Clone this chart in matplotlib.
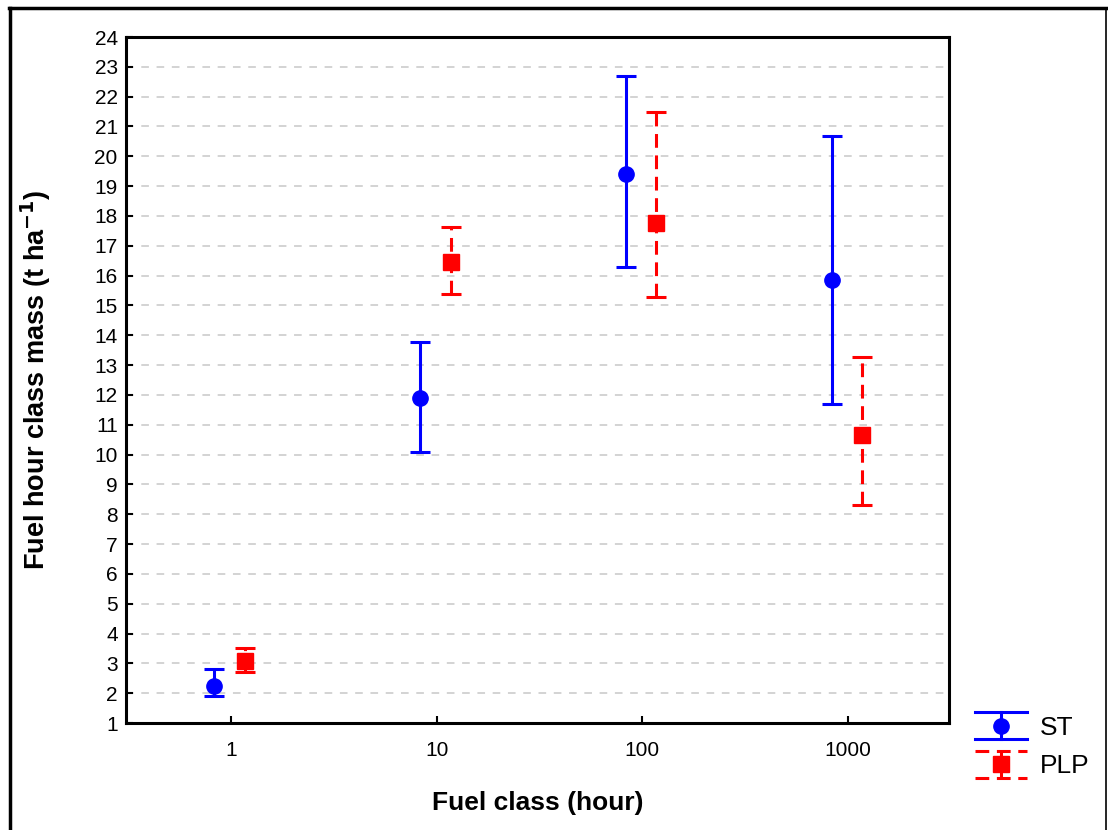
import numpy as np
import matplotlib
matplotlib.use('Agg')
import matplotlib.pyplot as plt
from matplotlib.lines import Line2D
from matplotlib.legend_handler import HandlerBase

plt.rcParams['font.family'] = ['Liberation Sans', 'DejaVu Sans']

# fuel classes (hours) and group values
fuel_class = [1, 10, 100, 1000]
class_labels = ['1', '10', '100', '1000']

st_mean = [2.25, 11.9, 19.4, 15.85]
st_low = [1.9, 10.1, 16.3, 11.7]
st_high = [2.82, 13.78, 22.7, 20.68]

plp_mean = [3.08, 16.45, 17.78, 10.65]
plp_low = [2.71, 15.4, 15.28, 8.3]
plp_high = [3.5, 17.62, 21.5, 13.28]

DASH = (0, (4.5, 2.5))


class ErrHandler(HandlerBase):
    # legend key like the original: wide caps, short stem and the marker
    def __init__(self, color, marker, dashed):
        HandlerBase.__init__(self)
        self.color = color
        self.marker = marker
        self.dashed = dashed

    def create_artists(self, legend, orig_handle, xdescent, ydescent,
                       width, height, fontsize, trans):
        x0 = -xdescent
        x1 = x0 + width
        xm = (x0 + x1) / 2
        ym = -ydescent + height / 2
        y0 = ym - 9.7
        y1 = ym + 9.7
        ls = DASH if self.dashed else '-'
        top = Line2D([x0, x1], [y1, y1], color=self.color, lw=2.2, ls=ls)
        bot = Line2D([x0, x1], [y0, y0], color=self.color, lw=2.2, ls=ls)
        stem = Line2D([xm, xm], [y0, y1], color=self.color, lw=2.2, ls=ls)
        mk = Line2D([xm], [ym], color=self.color, marker=self.marker, ms=11, ls='none')
        arts = [top, bot, stem, mk]
        for a in arts:
            a.set_transform(trans)
        return arts


fig = plt.figure(figsize=(11.08, 8.30), dpi=100)
ax = fig.add_axes([0.1137, 0.1289, 0.7428, 0.8265])

# small horizontal shift so the two groups don't overlap (log axis)
x = np.array(fuel_class, dtype=float)
x_st = x * 0.83
x_plp = x * 1.17

st_m = np.array(st_mean)
plp_m = np.array(plp_mean)
st_err = [st_m - np.array(st_low), np.array(st_high) - st_m]
plp_err = [plp_m - np.array(plp_low), np.array(plp_high) - plp_m]

e1 = ax.errorbar(x_st, st_m, yerr=st_err, fmt='o', color='#0000ff', ms=11,
                 elinewidth=2.2, capsize=7.5, capthick=2.2, label='ST', zorder=3)
e2 = ax.errorbar(x_plp, plp_m, yerr=plp_err, fmt='s', color='#ff0000', ms=11,
                 elinewidth=2.2, capsize=7.5, capthick=2.2, label='PLP', zorder=3)
e2[2][0].set_linestyle(DASH)

ax.set_xscale('log')
ax.set_xlim(10 ** -0.51, 10 ** 3.49)
ax.set_ylim(1, 24)
ax.set_xticks(fuel_class)
ax.set_xticklabels(class_labels)
ax.xaxis.set_minor_locator(matplotlib.ticker.NullLocator())
ax.set_yticks(range(1, 25))

ax.yaxis.grid(True, linestyle=(0, (5, 5)), color='#c8c8c8', linewidth=1.1)
ax.set_axisbelow(True)

ax.tick_params(direction='in', length=5, width=1.5, labelsize=15, colors='black')
ax.tick_params(axis='x', pad=13)
ax.tick_params(axis='y', pad=6)
for s in ax.spines.values():
    s.set_linewidth(2.2)

ax.set_xlabel('Fuel class (hour)', fontsize=19, fontweight='bold', labelpad=22)
ax.set_ylabel('Fuel hour class mass (t ha$^{\\mathbf{-1}}$)', fontsize=19.5,
              fontweight='bold', labelpad=30)

leg = fig.legend(handles=[e1, e2], loc='center left', bbox_to_anchor=(0.87, 0.1),
                 borderaxespad=0, frameon=False, fontsize=19, handlelength=1.97,
                 handletextpad=0.49, handleheight=0.75, labelspacing=0.55,
                 handler_map={e1: ErrHandler('#0000ff', 'o', False),
                              e2: ErrHandler('#ff0000', 's', True)})

# outer border of the figure (bottom edge is cut off in the original)
fig.add_artist(Line2D([0.009, 0.009], [0, 0.99], transform=fig.transFigure,
                      color='black', lw=2.5))
fig.add_artist(Line2D([0.008, 0.998], [0.99, 0.99], transform=fig.transFigure,
                      color='black', lw=2.5))
fig.add_artist(Line2D([0.998, 0.998], [0, 0.99], transform=fig.transFigure,
                      color='black', lw=1.2))

fig.savefig('out.png', dpi=100)
